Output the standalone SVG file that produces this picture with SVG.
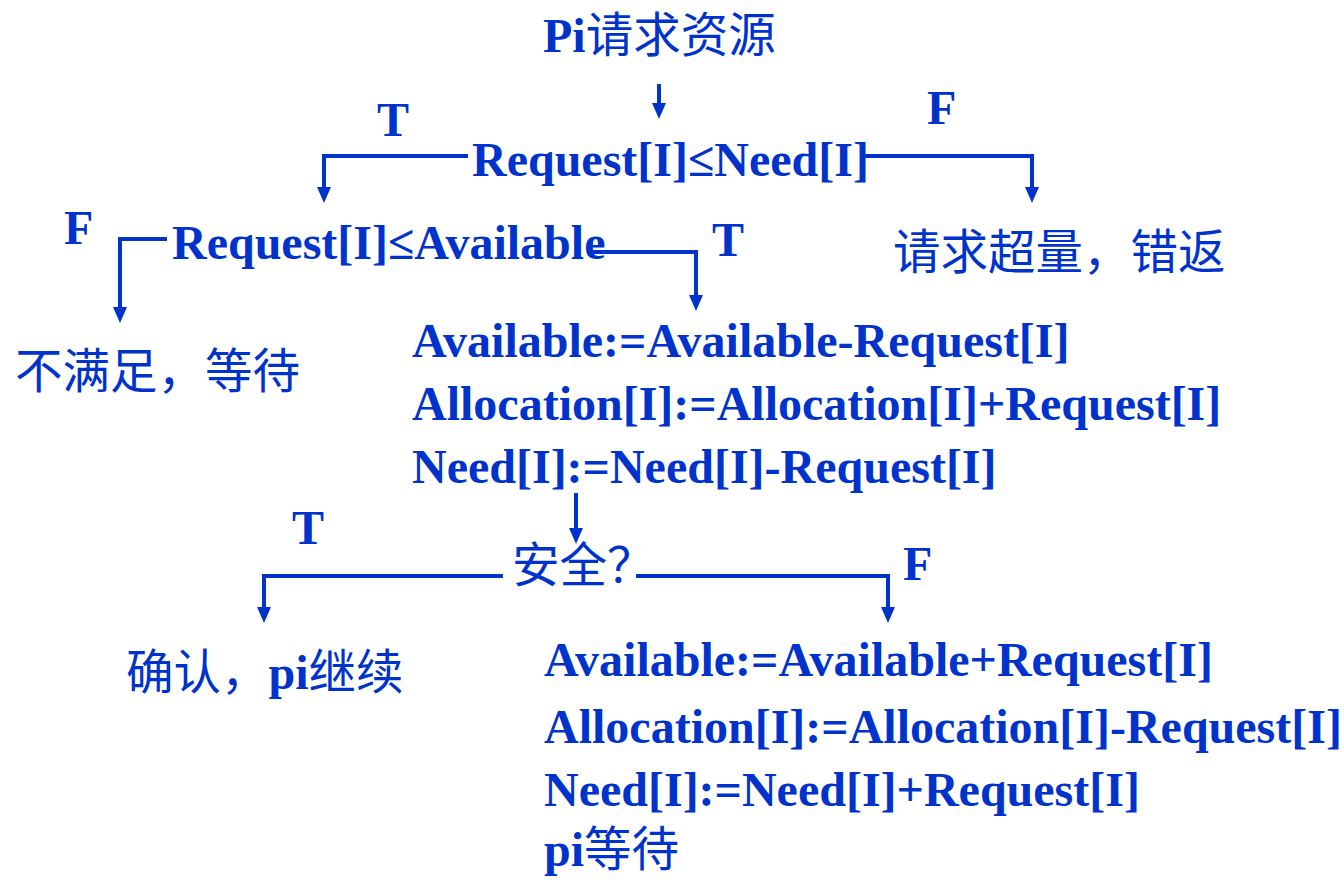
<svg xmlns="http://www.w3.org/2000/svg" width="1344" height="886" viewBox="0 0 1344 886">
<style>
  text { font-family: "Liberation Serif", "Noto Sans CJK SC", serif; font-size: 48px; fill: #0033CC; }
  .b { font-weight: bold; }
  .cjk { font-family: "Noto Sans CJK SC", "Liberation Serif", sans-serif; font-weight: normal; font-size: 47.5px; }
  .lat { font-family: "Liberation Serif", serif; font-weight: bold; font-size: 48px; }
  .conn path { fill: none; stroke: #0033CC; stroke-width: 4; stroke-linejoin: miter; }
</style>
<defs>
  <marker id="ah" viewBox="0 0 16 14" markerWidth="16" markerHeight="14" refX="6" refY="7" orient="auto" markerUnits="userSpaceOnUse">
    <path d="M0,0 L16,7 L0,14 z" fill="#0033CC"/>
  </marker>
</defs>
<rect width="1344" height="886" fill="#ffffff"/>

<g class="conn" id="connectors">
  <path d="M659,84 V109" marker-end="url(#ah)"/>
  <path d="M468,156 H324 V193" marker-end="url(#ah)"/>
  <path d="M863,156 H1032 V193" marker-end="url(#ah)"/>
  <path d="M167,239 H120 V313" marker-end="url(#ah)"/>
  <path d="M588,252 H696 V301" marker-end="url(#ah)"/>
  <path d="M576,493 V534" marker-end="url(#ah)"/>
  <path d="M503,576 H264 V613" marker-end="url(#ah)"/>
  <path d="M636,576 H888 V613" marker-end="url(#ah)"/>
</g>

<g id="start"><text class="b" x="543" y="52">Pi<tspan class="cjk">请求资源</tspan></text></g>
<g id="label-t1"><text class="b" x="377" y="136">T</text></g>
<g id="label-f1"><text class="b" x="927" y="124">F</text></g>
<g id="cond-need"><text class="b" x="472" y="176">Request[I]≤Need[I]</text></g>
<g id="label-f2"><text class="b" x="64" y="244">F</text></g>
<g id="cond-avail"><text class="b" x="172" y="259">Request[I]≤Available</text></g>
<g id="label-t2"><text class="b" x="712" y="256">T</text></g>
<g id="err"><text class="cjk" x="893" y="269">请求超量，错返</text></g>
<g id="wait"><text class="cjk" x="15" y="388">不满足，等待</text></g>
<g id="alloc">
  <text class="b" x="412" y="357">Available:=Available-Request[I]</text>
  <text class="b" x="412" y="420">Allocation[I]:=Allocation[I]+Request[I]</text>
  <text class="b" x="412" y="483">Need[I]:=Need[I]-Request[I]</text>
</g>
<g id="label-t3"><text class="b" x="292" y="544">T</text></g>
<g id="safe"><text class="cjk" x="512" y="582">安全？</text></g>
<g id="label-f3"><text class="b" x="903" y="580">F</text></g>
<g id="confirm"><text class="cjk" x="126" y="689">确认，<tspan class="lat">pi</tspan>继续</text></g>
<g id="rollback">
  <text class="b" x="544" y="676">Available:=Available+Request[I]</text>
  <text class="b" x="544" y="743">Allocation[I]:=Allocation[I]-Request[I]</text>
  <text class="b" x="544" y="806">Need[I]:=Need[I]+Request[I]</text>
  <text class="b" x="544" y="866">pi<tspan class="cjk">等待</tspan></text>
</g>
</svg>
